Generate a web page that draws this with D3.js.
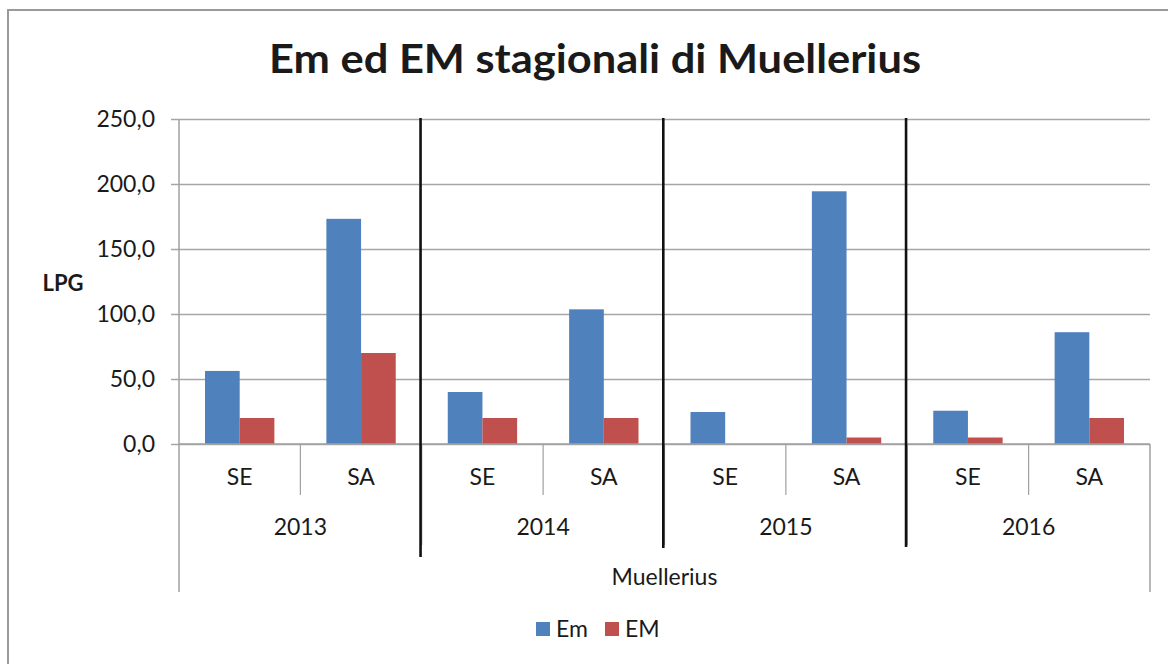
<!DOCTYPE html>
<html>
<head>
<meta charset="utf-8">
<script src="https://cdn.jsdelivr.net/npm/d3@7"></script>
<style>
  html, body { margin: 0; padding: 0; background: #fff; }
  svg { display: block; }
  text { font-family: Lato, "Open Sans", sans-serif; fill: #1a1a1a; }
</style>
</head>
<body>
<svg id="chart" width="1168" height="664"></svg>
<script>
// ---- data ----
const years = ["2013", "2014", "2015", "2016"];
const seasons = ["SE", "SA"];
const seriesNames = ["Em", "EM"];
const emValues = [56.2, 173.2, 40.0, 103.6, 24.6, 194.4, 25.6, 86.0];
const EMValues = [20.0, 70.0, 20.0, 20.0, 0.0, 5.0, 5.0, 20.0];
const yTicks = [0, 50, 100, 150, 200, 250];
const titleText = "Em ed EM stagionali di Muellerius";
const yLabel = "LPG";
const groupLabel = "Muellerius";
const colors = ["#4F81BD", "#C0504D"];

(function () {
// ---- build table ----
const cats = [];
years.forEach(yr => seasons.forEach(s => cats.push({ year: yr, season: s, key: yr + "-" + s })));
const table = cats.map((c, i) => ({ ...c, values: [emValues[i], EMValues[i]] }));

const svg = d3.select("#chart");
const pL = 179, pR = 1150, pT = 119, pB = 444;

// outer frame
svg.append("rect")
  .attr("x", 8).attr("y", 10).attr("width", 1300).attr("height", 800)
  .attr("fill", "none").attr("stroke", "#9a9a9a").attr("stroke-width", 2);

const x = d3.scaleBand().domain(cats.map(c => c.key)).range([pL, pR]);
const xYear = d3.scaleBand().domain(years).range([pL, pR]);
// gap width 150%
const bw = x.bandwidth() / 3.5;
const gapHalf = x.bandwidth() * 0.75 / 3.5;
const y = d3.scaleLinear().domain([0, 250]).range([pB, pT]);

// gridlines
svg.append("g")
  .attr("transform", `translate(${pL},0)`)
  .call(d3.axisLeft(y).tickValues(yTicks).tickSize(-(pR - pL)).tickFormat(""))
  .call(g => g.select(".domain").remove())
  .call(g => g.selectAll("line").attr("stroke", "#a6a6a6").attr("stroke-width", 1.5));

// y axis with outer tick marks and labels
svg.append("g")
  .attr("transform", `translate(${pL},0)`)
  .call(d3.axisLeft(y).tickValues(yTicks).tickSize(8).tickPadding(16)
    .tickFormat(d => d3.format(".1f")(d).replace(".", ",")))
  .call(g => g.select(".domain").remove())
  .call(g => g.selectAll("line").attr("stroke", "#a6a6a6").attr("stroke-width", 1.5))
  .call(g => g.selectAll("text").attr("font-size", 23).attr("fill", "#1a1a1a")
    .style("font-family", "Lato, 'Open Sans', sans-serif"));

// bars
const groups = svg.append("g").selectAll("g").data(table).join("g")
  .attr("transform", d => `translate(${x(d.key)},0)`);
groups.selectAll("rect")
  .data(d => d.values.map((v, i) => ({ v, i })))
  .join("rect")
  .attr("x", d => gapHalf + d.i * bw)
  .attr("y", d => y(d.v))
  .attr("width", bw)
  .attr("height", d => y(0) - y(d.v))
  .attr("fill", d => colors[d.i]);

// axis lines
const axisColor = "#a0a0a0";
svg.append("line").attr("x1", pL).attr("x2", pL).attr("y1", pT).attr("y2", 592)
  .attr("stroke", axisColor).attr("stroke-width", 1.5);
svg.append("line").attr("x1", pR).attr("x2", pR).attr("y1", pB).attr("y2", 592)
  .attr("stroke", axisColor).attr("stroke-width", 1.5);
svg.append("line").attr("x1", pL).attr("x2", pR).attr("y1", pB).attr("y2", pB)
  .attr("stroke", axisColor).attr("stroke-width", 1.5);

// season separators
svg.append("g").selectAll("line").data(years).join("line")
  .attr("x1", d => xYear(d) + xYear.bandwidth() / 2)
  .attr("x2", d => xYear(d) + xYear.bandwidth() / 2)
  .attr("y1", pB).attr("y2", 495)
  .attr("stroke", axisColor).attr("stroke-width", 1.2);
// year separators
svg.append("g").selectAll("line").data(years.slice(1)).join("line")
  .attr("x1", d => xYear(d)).attr("x2", d => xYear(d))
  .attr("y1", pB).attr("y2", 545)
  .attr("stroke", axisColor).attr("stroke-width", 1.2);

// hand-drawn black separators
const blackEnds = [557, 548, 547];
svg.append("g").selectAll("line").data(years.slice(1)).join("line")
  .attr("x1", d => xYear(d) - 1.2).attr("x2", d => xYear(d) - 1.2)
  .attr("y1", 118).attr("y2", (d, i) => blackEnds[i])
  .attr("stroke", "#111").attr("stroke-width", 2.6);

// season labels
svg.append("g").selectAll("text").data(cats).join("text")
  .attr("x", d => x(d.key) + x.bandwidth() / 2)
  .attr("y", 477).attr("dy", "0.35em")
  .attr("text-anchor", "middle").attr("font-size", 23)
  .text(d => d.season);
// year labels
svg.append("g").selectAll("text").data(years).join("text")
  .attr("x", d => xYear(d) + xYear.bandwidth() / 2)
  .attr("y", 527).attr("dy", "0.35em")
  .attr("text-anchor", "middle").attr("font-size", 23)
  .text(d => d);
// group label
svg.append("text")
  .attr("x", (pL + pR) / 2).attr("y", 577).attr("dy", "0.35em")
  .attr("text-anchor", "middle").attr("font-size", 23)
  .text(groupLabel);

// y label
svg.append("text")
  .attr("x", 63).attr("y", 283).attr("dy", "0.35em")
  .attr("text-anchor", "middle").attr("font-size", 22).attr("font-weight", "bold")
  .text(yLabel);

// title
svg.append("text")
  .attr("x", 595).attr("y", 73)
  .attr("text-anchor", "middle").attr("font-size", 40).attr("font-weight", "bold")
  .attr("textLength", 652).attr("lengthAdjust", "spacingAndGlyphs")
  .text(titleText);

// legend
const legendX = [536, 605];
const lg = svg.append("g").selectAll("g").data(seriesNames).join("g")
  .attr("transform", (d, i) => `translate(${legendX[i]},622)`);
lg.append("rect").attr("width", 14).attr("height", 14).attr("fill", (d, i) => colors[i]);
lg.append("text").attr("x", 20).attr("y", 7).attr("dy", "0.35em").attr("font-size", 23).text(d => d);
})();
</script>
</body>
</html>
